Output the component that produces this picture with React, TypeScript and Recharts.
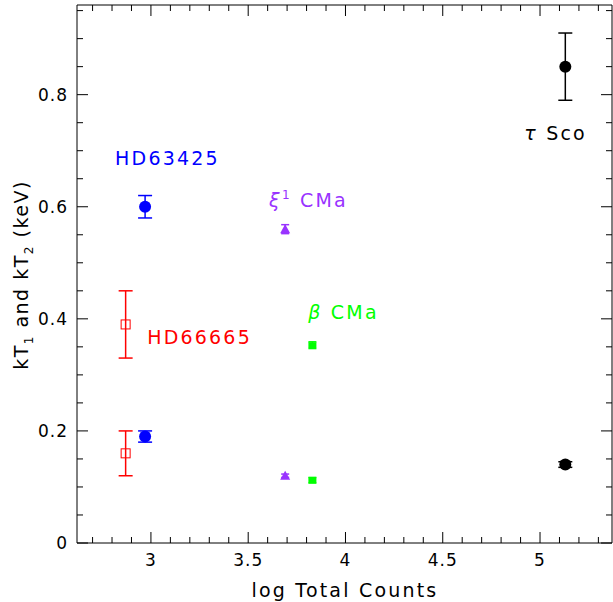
import { Scatter, ScatterChart, XAxis, YAxis, ErrorBar, ReferenceDot } from "recharts";

const FONT = "DejaVu Sans, sans-serif";

// each star: log counts, kT values, asymmetric errors [minus, plus]
const HD63425 = [
  { x: 2.97, y: 0.6, err: [0.02, 0.02] },
  { x: 2.97, y: 0.19, err: [0.01, 0.01] },
];
const HD66665 = [
  { x: 2.87, y: 0.39, err: [0.06, 0.06] },
  { x: 2.87, y: 0.16, err: [0.04, 0.04] },
];
const XI1CMA = [
  { x: 3.69, y: 0.56, err: [0.008, 0.008] },
  { x: 3.69, y: 0.12, err: [0.003, 0.003] },
];
const BETACMA = [
  { x: 3.83, y: 0.353, err: [0.006, 0.006] },
  { x: 3.83, y: 0.112, err: [0.005, 0.005] },
];
const TAUSCO = [
  { x: 5.13, y: 0.85, err: [0.06, 0.06] },
  { x: 5.13, y: 0.14, err: [0.005, 0.005] },
];

const X_MAJOR = [3, 3.5, 4, 4.5, 5];
const Y_MAJOR = [0, 0.2, 0.4, 0.6, 0.8];
const X_TICKS = Array.from({ length: 28 }, (_, i) => +(2.7 + i * 0.1).toFixed(2)).filter((v) => v <= 5.37);
const Y_TICKS = Array.from({ length: 20 }, (_, i) => +(i * 0.05).toFixed(2)).filter((v) => v <= 0.96);

const isMajor = (v: number, list: number[]) => list.some((m) => Math.abs(m - v) < 1e-6);

const BottomTick = (p: any) => {
  const v = p.payload.value;
  const big = isMajor(v, X_MAJOR);
  return (
    <g>
      <line x1={p.x} x2={p.x} y1={p.y} y2={p.y - (big ? 11 : 6)} stroke="#000" />
      {big && (
        <text x={p.x} y={p.y + 23} textAnchor="middle" fontSize={17} fontFamily={FONT} letterSpacing={1}>
          {v}
        </text>
      )}
    </g>
  );
};
const TopTick = (p: any) => {
  const big = isMajor(p.payload.value, X_MAJOR);
  return <line x1={p.x} x2={p.x} y1={p.y} y2={p.y + (big ? 11 : 6)} stroke="#000" />;
};
const LeftTick = (p: any) => {
  const v = p.payload.value;
  const big = isMajor(v, Y_MAJOR);
  return (
    <g>
      <line x1={p.x} x2={p.x + (big ? 11 : 6)} y1={p.y} y2={p.y} stroke="#000" />
      {big && (
        <text x={p.x - 9} y={p.y + 6} textAnchor="end" fontSize={17} fontFamily={FONT} letterSpacing={1}>
          {v === 0 ? "0" : v.toFixed(1)}
        </text>
      )}
    </g>
  );
};
const RightTick = (p: any) => {
  const big = isMajor(p.payload.value, Y_MAJOR);
  return <line x1={p.x} x2={p.x - (big ? 11 : 6)} y1={p.y} y2={p.y} stroke="#000" />;
};

const Circle = (color: string) => (p: any) => <circle cx={p.cx} cy={p.cy} r={6} fill={color} />;
const OpenSquare = (p: any) => (
  <rect x={p.cx - 4.5} y={p.cy - 4.5} width={9} height={9} fill="none" stroke="#ff0000" />
);
const Triangle = (p: any) => (
  <polygon points={`${p.cx},${p.cy - 5} ${p.cx - 5},${p.cy + 4} ${p.cx + 5},${p.cy + 4}`} fill="#9933ff" />
);
const SmallSq = (p: any) => <rect x={p.cx - 4} y={p.cy - 3} width={8} height={6} fill="#00ff00" />;

const lab = (text: any, color: string) => ({
  content: (p: any) => (
    <text x={p.viewBox.x} y={p.viewBox.y} textAnchor="middle" fontSize={19} fill={color} fontFamily={FONT} letterSpacing={2.2}>
      {text}
    </text>
  ),
});

export default function App() {
  return (
    <div style={{ position: "absolute", left: 0, top: 0 }}>
      <ScatterChart width={613} height={602} margin={{ top: 0, right: 0, bottom: 0, left: 0 }}>
        <XAxis
          type="number"
          dataKey="x"
          xAxisId="b"
          domain={[2.62, 5.37]}
          ticks={X_TICKS}
          interval={0}
          height={59}
          tickSize={0}
          tickMargin={0}
          tick={BottomTick}
          stroke="#000"
          allowDataOverflow
          label={{
            content: () => (
              <text x={345} y={597} textAnchor="middle" fontSize={19} fontFamily={FONT} letterSpacing={2.2}>
                log Total Counts
              </text>
            ),
          }}
        />
        <XAxis
          type="number"
          dataKey="x"
          xAxisId="t"
          orientation="top"
          domain={[2.62, 5.37]}
          ticks={X_TICKS}
          interval={0}
          height={5}
          tickSize={0}
          tickMargin={0}
          tick={TopTick}
          stroke="#000"
          allowDataOverflow
        />
        <YAxis
          type="number"
          dataKey="y"
          yAxisId="l"
          domain={[0, 0.96]}
          ticks={Y_TICKS}
          interval={0}
          width={77}
          tickSize={0}
          tickMargin={0}
          tick={LeftTick}
          stroke="#000"
          allowDataOverflow
          label={{
            content: () => (
              <text
                x={28}
                y={275}
                textAnchor="middle"
                fontSize={19}
                fontFamily={FONT}
                letterSpacing={1.5}
                transform="rotate(-90 28 275)"
              >
                kT<tspan fontSize={12} dy={5}>1</tspan>
                <tspan dy={-5}> and kT</tspan>
                <tspan fontSize={12} dy={5}>2</tspan>
                <tspan dy={-5}> (keV)</tspan>
              </text>
            ),
          }}
        />
        <YAxis
          type="number"
          dataKey="y"
          yAxisId="r"
          orientation="right"
          domain={[0, 0.96]}
          ticks={Y_TICKS}
          interval={0}
          width={1}
          tickSize={0}
          tickMargin={0}
          tick={RightTick}
          stroke="#000"
          allowDataOverflow
        />
        <Scatter data={HD63425} xAxisId="b" yAxisId="l" shape={Circle("#0000ff")} isAnimationActive={false}>
          <ErrorBar dataKey="err" direction="y" stroke="#0000ff" width={7} />
        </Scatter>
        <Scatter data={HD66665} xAxisId="b" yAxisId="l" shape={OpenSquare} isAnimationActive={false}>
          <ErrorBar dataKey="err" direction="y" stroke="#ff0000" width={7} />
        </Scatter>
        <Scatter data={XI1CMA} xAxisId="b" yAxisId="l" shape={Triangle} isAnimationActive={false}>
          <ErrorBar dataKey="err" direction="y" stroke="#9933ff" width={4} />
        </Scatter>
        <Scatter data={BETACMA} xAxisId="b" yAxisId="l" shape={SmallSq} isAnimationActive={false}>
          <ErrorBar dataKey="err" direction="y" stroke="#00ff00" width={4} />
        </Scatter>
        <Scatter data={TAUSCO} xAxisId="b" yAxisId="l" shape={Circle("#000")} isAnimationActive={false}>
          <ErrorBar dataKey="err" direction="y" stroke="#000" width={7} />
        </Scatter>
        <ReferenceDot xAxisId="b" yAxisId="l" x={3.085} y={0.675} r={0} stroke="none" label={lab("HD63425", "#0000ff")} />
        <ReferenceDot xAxisId="b" yAxisId="l" x={3.25} y={0.355} r={0} stroke="none" label={lab("HD66665", "#ff0000")} />
        <ReferenceDot
          xAxisId="b"
          yAxisId="l"
          x={3.81}
          y={0.6}
          r={0}
          stroke="none"
          label={lab(
            <>
              <tspan fontStyle="italic">ξ</tspan>
              <tspan fontSize={12} dy={-8}>1</tspan>
              <tspan dy={8}> CMa</tspan>
            </>,
            "#9933ff"
          )}
        />
        <ReferenceDot
          xAxisId="b"
          yAxisId="l"
          x={3.99}
          y={0.4}
          r={0}
          stroke="none"
          label={lab(
            <>
              <tspan fontStyle="italic">β</tspan>
              <tspan> CMa</tspan>
            </>,
            "#00ff00"
          )}
        />
        <ReferenceDot
          xAxisId="b"
          yAxisId="l"
          x={5.08}
          y={0.72}
          r={0}
          stroke="none"
          label={lab(
            <>
              <tspan fontStyle="italic">τ</tspan>
              <tspan> Sco</tspan>
            </>,
            "#000"
          )}
        />
      </ScatterChart>
    </div>
  );
}
